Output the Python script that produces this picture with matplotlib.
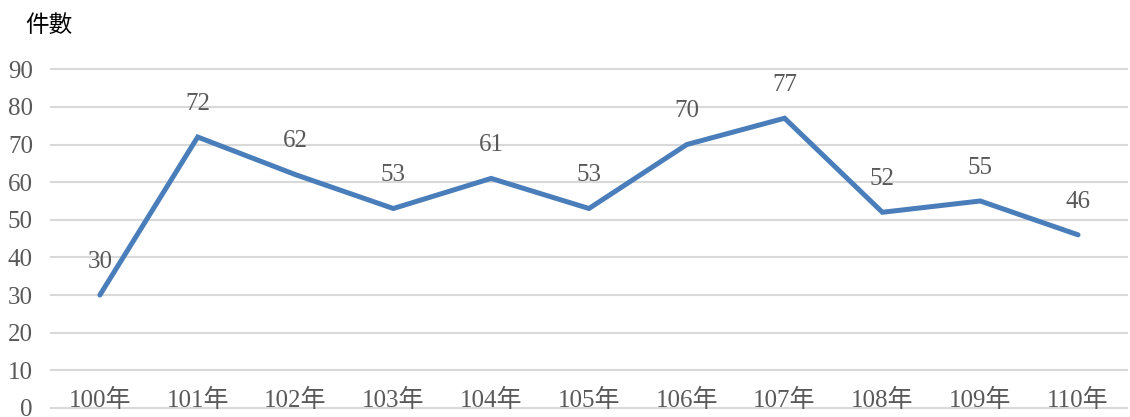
import matplotlib
matplotlib.use('Agg')
import matplotlib.pyplot as plt
import numpy as np

# Data
years = ['100年', '101年', '102年', '103年', '104年', '105年',
         '106年', '107年', '108年', '109年', '110年']
counts = [30, 72, 62, 53, 61, 53, 70, 77, 52, 55, 46]
yticks = [0, 10, 20, 30, 40, 50, 60, 70, 80, 90]
ylabel = '件數'

FONTS = ['Liberation Serif', 'Noto Sans CJK TC', 'DejaVu Sans']
TEXT_COLOR = '#595959'
LINE_COLOR = '#4a7ebb'


def main():
    fig = plt.figure(figsize=(11.30, 4.17), dpi=100)
    ax = fig.add_axes([0.0451, 0.0218, 0.9522, 0.812])

    x = np.arange(len(years))
    ax.plot(x, counts, color=LINE_COLOR, linewidth=3.6,
            solid_capstyle='round', solid_joinstyle='miter', zorder=3)

    # Data labels
    for xi, v in zip(x, counts):
        ax.annotate(str(v), (xi, v), xytext=(0, 24), textcoords='offset points',
                    ha='center', va='center', fontsize=18, color=TEXT_COLOR,
                    family=FONTS)

    ax.set_xlim(-0.5, len(years) - 0.5)
    ax.set_ylim(0, 90)

    # Grid
    ax.set_yticks(yticks)
    ax.yaxis.grid(True, color='#d9d9d9', linewidth=1.5)
    for gl in ax.get_ygridlines():
        gl.set_clip_on(False)
    ax.set_axisbelow(True)
    ax.set_yticklabels([str(t) for t in yticks], family=FONTS, fontsize=18,
                       color=TEXT_COLOR)
    ax.tick_params(axis='y', length=0, pad=13)

    # Category labels drawn over the zero line
    ax.set_xticks([])
    for xi, lab in zip(x, years):
        ax.text(xi, 0.023, lab, transform=ax.get_xaxis_transform(),
                ha='center', va='center', fontsize=18, color=TEXT_COLOR,
                family=FONTS)

    for s in ax.spines.values():
        s.set_visible(False)

    fig.text(0.022, 0.94, ylabel, ha='left', va='center', fontsize=17,
             color='black', family=['Noto Sans CJK TC', 'DejaVu Sans'])

    fig.savefig('out.png', dpi=100)


if __name__ == '__main__':
    main()
